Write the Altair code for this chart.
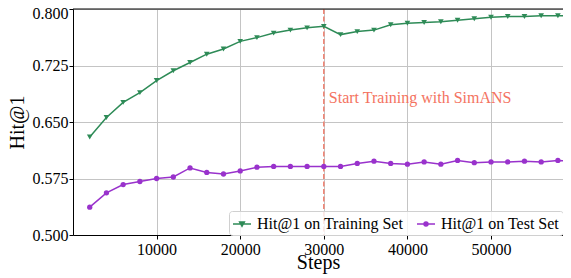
import altair as alt
import pandas as pd

steps = [2000, 4000, 6000, 8000, 10000, 12000, 14000, 16000, 18000, 20000,
         22000, 24000, 26000, 28000, 30000, 32000, 34000, 36000, 38000, 40000,
         42000, 44000, 46000, 48000, 50000, 52000, 54000, 56000, 58000, 60000]
train_hit1 = [0.630, 0.656, 0.676, 0.689, 0.705, 0.718, 0.729, 0.740, 0.747, 0.757,
              0.762, 0.768, 0.772, 0.775, 0.777, 0.766, 0.770, 0.772, 0.779, 0.781,
              0.782, 0.783, 0.785, 0.787, 0.789, 0.790, 0.790, 0.791, 0.791, 0.791]
test_hit1 = [0.537, 0.556, 0.567, 0.571, 0.575, 0.577, 0.589, 0.583, 0.581, 0.585,
             0.590, 0.591, 0.591, 0.591, 0.591, 0.591, 0.595, 0.598, 0.595, 0.594,
             0.597, 0.594, 0.599, 0.596, 0.597, 0.597, 0.598, 0.597, 0.599, 0.598]
series_names = ["Hit@1 on Training Set", "Hit@1 on Test Set"]
series_keys = ["train", "test"]
series_colors = ["#2e8b57", "#9932cc"]
marker_shapes = ["triangle-down", "circle"]
y_ticks = [0.500, 0.575, 0.650, 0.725, 0.800]
x_ticks = [10000, 20000, 30000, 40000, 50000]
start_step = [30000]
annotation = ["Start Training with SimANS"]
annotation_y = [0.675]

rows = []
for name, key, vals in zip(series_names, series_keys, [train_hit1, test_hit1]):
    for s, v in zip(steps, vals):
        rows.append({"step": s, "hit": v, "series": name, "key": key})
df = pd.DataFrame(rows)

FONT = "Liberation Serif, Times New Roman, Times, DejaVu Serif, serif"

x_enc = alt.X("step:Q", scale=alt.Scale(domain=[0, 58610], nice=False, zero=False),
              axis=alt.Axis(values=x_ticks, format="d", title="Steps",
                            titleY=33, titleBaseline="alphabetic"))
y_enc = alt.Y("hit:Q", scale=alt.Scale(domain=[0.5, 0.8], nice=False, zero=False),
              axis=alt.Axis(values=y_ticks, format=".3f", title="Hit@1",
                            titleX=-50, titleBaseline="alphabetic", labelPadding=1,
                            labelOffset={"condition": {"test": "datum.value >= 0.79", "value": 4.5}, "value": 0}))

# legend glyphs: short line with a marker on it
tri_path = "M-1,0H1M-0.26,-0.22H0.26L0,0.25Z"
circ_path = "M-1,0H1M0.22,0A0.22,0.22 0 1,1 -0.22,0A0.22,0.22 0 1,1 0.22,0Z"
legend = alt.Legend(
    title=None, orient="bottom-right", direction="horizontal", offset=0,
    labelFont=FONT, labelFontSize=16, labelColor="black", labelOffset=5,
    symbolSize=324, symbolStrokeWidth=1.5, columnPadding=10, padding=3,
    strokeColor="#d0d0d0", fillColor="rgba(255,255,255,0.8)", cornerRadius=3,
)
# colour of the drawn series (separate domain so its disabled legend never merges)
color_enc = alt.Color("key:N", scale=alt.Scale(domain=series_keys, range=series_colors),
                      legend=None)

base = alt.Chart(df)

vline = alt.Chart(pd.DataFrame({"step": start_step})).mark_rule(
    color="#f08070", strokeWidth=1.5, strokeDash=[5, 2.5]).encode(x="step:Q")

txt = alt.Chart(pd.DataFrame({"step": start_step, "hit": annotation_y, "label": annotation})).mark_text(
    align="left", baseline="alphabetic", dx=5, font=FONT, fontSize=16, color="#f4735f"
).encode(x="step:Q", y="hit:Q", text="label:N")

lines = base.mark_line(strokeWidth=1.5, clip=True).encode(x=x_enc, y=y_enc, color=color_enc)
pts_train = base.transform_filter(alt.datum.key == series_keys[0]).mark_point(
    filled=True, size=32, opacity=1, clip=True, shape=marker_shapes[0]).encode(
    x="step:Q", y="hit:Q", color=color_enc)
pts_test = base.transform_filter(alt.datum.key == series_keys[1]).mark_point(
    filled=True, size=28, opacity=1, clip=True, shape=marker_shapes[1]).encode(
    x="step:Q", y="hit:Q", color=color_enc)

# legend layer: its own marks are moved outside the clipped plot, only the legend shows
legend_layer = base.transform_calculate(off="datum.step - 1000000").mark_point(
    filled=True, size=324, opacity=1, strokeWidth=1.5, clip=True).encode(
    x="off:Q", y="hit:Q",
    fill=alt.Fill("series:N", scale=alt.Scale(domain=series_names, range=series_colors), legend=legend),
    stroke=alt.Stroke("series:N", scale=alt.Scale(domain=series_names, range=series_colors), legend=legend),
    shape=alt.Shape("series:N", scale=alt.Scale(domain=series_names, range=[tri_path, circ_path]), legend=legend),
)

top = alt.Chart(pd.DataFrame({"hit": [0.8]})).mark_rule(color="black", strokeWidth=1).encode(y="hit:Q")

chart = alt.layer(vline, lines, pts_train, pts_test, txt, top, legend_layer).properties(
    width=490, height=226,
    autosize=alt.AutoSizeParams(type="none"),
    padding={"left": 65, "top": 1, "right": 0, "bottom": 39},
).configure_view(stroke=None).configure_axis(
    labelFont=FONT, labelFontSize=16, labelColor="black",
    titleFont=FONT, titleFontSize=20, titleFontWeight="normal", titleColor="black",
    domainColor="black", domainWidth=1, tickColor="black", tickSize=4, labelPadding=2,
    gridColor="#c4c4c4", gridWidth=1,
)

chart.save("out.html", embed_options={"renderer": "svg", "actions": False})
